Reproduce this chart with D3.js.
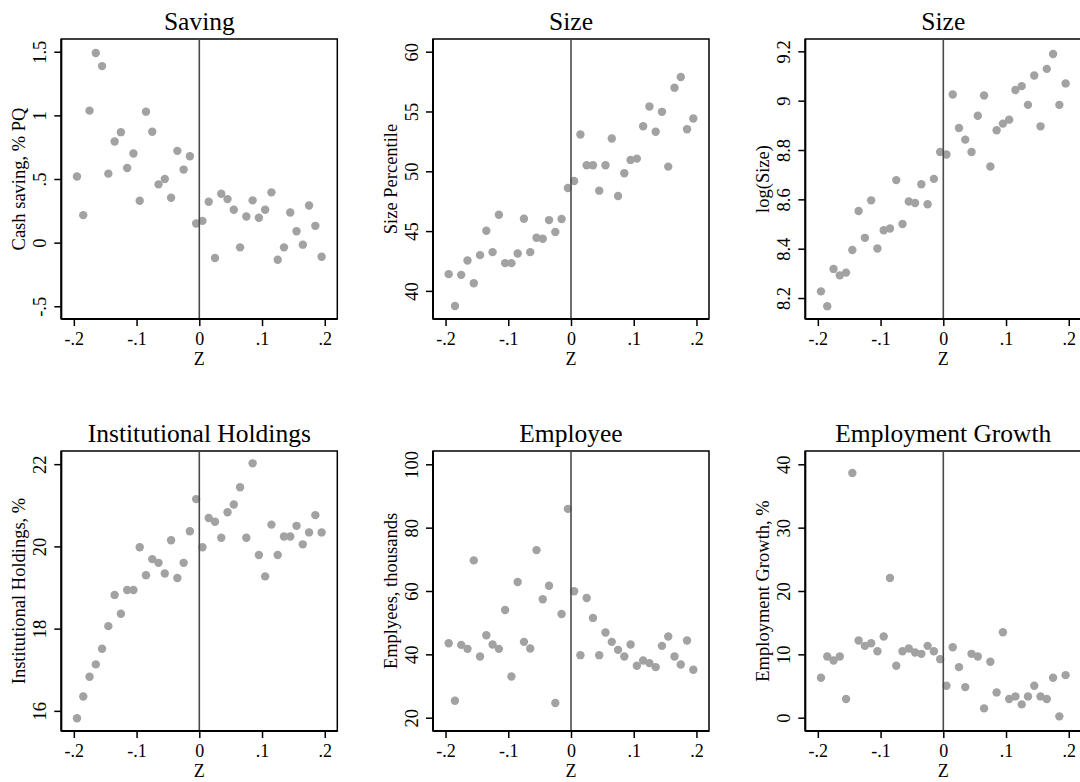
<!DOCTYPE html>
<html>
<head>
<meta charset="utf-8">
<script src="https://cdn.jsdelivr.net/npm/d3@7"></script>
<style>
  html, body { margin: 0; padding: 0; background: #fff; }
  svg { display: block; }
  svg text { font-family: "Liberation Serif", "Times New Roman", serif !important; fill: #000; }
</style>
</head>
<body>
<svg id="chart" width="1080" height="782"></svg>
<script>
// ---- Data ----
const zBins = [-0.195,-0.185,-0.175,-0.165,-0.155,-0.145,-0.135,-0.125,-0.115,-0.105,
  -0.095,-0.085,-0.075,-0.065,-0.055,-0.045,-0.035,-0.025,-0.015,-0.005,
  0.005,0.015,0.025,0.035,0.045,0.055,0.065,0.075,0.085,0.095,
  0.105,0.115,0.125,0.135,0.145,0.155,0.165,0.175,0.185,0.195];

const savingValues = [0.52,0.216,1.037,1.49,1.387,0.542,0.795,0.868,0.587,0.70,
  0.329,1.029,0.871,0.458,0.50,0.353,0.721,0.574,0.679,0.15,
  0.171,0.321,-0.121,0.384,0.342,0.258,-0.037,0.205,0.332,0.195,
  0.258,0.395,-0.134,-0.037,0.237,0.089,-0.016,0.292,0.132,-0.111];

const sizePctValues = [41.4,38.74,41.34,42.54,40.64,42.99,45.03,43.24,46.37,42.32,
  42.32,43.13,46.03,43.24,44.44,44.36,45.92,44.92,46.01,48.6,
  49.19,53.07,50.5,50.5,48.38,50.5,52.74,47.93,49.83,50.95,
  51.06,53.77,55.42,53.3,54.97,50.39,56.98,57.88,53.52,54.41];

const logSizeValues = [8.227,8.167,8.318,8.292,8.303,8.395,8.553,8.444,8.596,8.401,
  8.475,8.482,8.678,8.50,8.591,8.585,8.661,8.58,8.683,8.792,
  8.782,9.025,8.889,8.842,8.792,8.939,9.021,8.733,8.88,8.907,
  8.923,9.043,9.059,8.983,9.102,8.896,9.129,9.189,8.983,9.07];

const instHoldValues = [15.82,16.35,16.83,17.13,17.51,18.06,18.82,18.36,18.94,18.94,
  19.98,19.30,19.69,19.6,19.34,20.15,19.23,19.6,20.37,21.15,
  19.98,20.69,20.6,20.21,20.83,21.02,21.44,20.21,22.02,19.79,
  19.27,20.53,19.79,20.24,20.24,20.5,20.05,20.34,20.76,20.34];

const employeeValues = [43.52,25.35,42.99,41.73,69.66,39.32,46.04,43.1,41.73,54.0,
  33.02,62.83,43.94,41.84,72.91,57.38,61.68,24.62,52.76,85.93,
  59.9,39.74,57.8,51.5,39.74,46.88,43.94,41.42,39.32,43.1,
  36.38,38.06,37.22,35.96,42.68,45.62,39.32,36.8,44.36,35.12];

const empGrowthValues = [6.3,9.66,9.03,9.66,2.94,38.64,12.18,11.34,11.76,10.5,
  12.81,22.05,8.19,10.5,10.92,10.29,10.08,11.34,10.5,9.24,
  5.04,11.13,7.98,4.83,10.08,9.66,1.47,8.82,3.99,13.49,
  2.94,3.36,2.1,3.36,5.04,3.36,2.94,6.3,0.21,6.72];

const panelTitles = ["Saving","Size","Size","Institutional Holdings","Employee","Employment Growth"];
const yAxisTitles = ["Cash saving, % PQ","Size Percentile","log(Size)","Institutional Holdings, %","Emplyees, thousands","Employment Growth, %"];
const xAxisTitle = "Z";
const xTicks = [-0.2,-0.1,0,0.1,0.2];
const xTickLabels = ["-.2","-.1","0",".1",".2"];
const yTicks = [
  [-0.5,0,0.5,1,1.5],
  [40,45,50,55,60],
  [8.2,8.4,8.6,8.8,9,9.2],
  [16,18,20,22],
  [20,40,60,80,100],
  [0,10,20,30,40]
];
const yTickLabels = [
  ["-.5","0",".5","1","1.5"],
  ["40","45","50","55","60"],
  ["8.2","8.4","8.6","8.8","9","9.2"],
  ["16","18","20","22"],
  ["20","40","60","80","100"],
  ["0","10","20","30","40"]
];
const yDomains = [
  [-0.6,1.6],
  [37.65,61.06],
  [8.115,9.25],
  [15.51,22.32],
  [15.8,104.2],
  [-2.1,42.1]
];
const seriesList = [savingValues,sizePctValues,logSizeValues,instHoldValues,employeeValues,empGrowthValues];

// ---- Layout ----
const colCenters = [199.3, 571, 943.3];
const plotW = 276;
const rowTops = [39, 451];
const plotH = 280;
const serif = "'Liberation Serif', 'Times New Roman', serif";

const svg = d3.select("#chart");

seriesList.forEach((vals, i) => {
  const col = i % 3, row = Math.floor(i / 3);
  const left = colCenters[col] - plotW / 2;
  const top = rowTops[row];
  const x = d3.scaleLinear().domain([-0.22, 0.22]).range([0, plotW]);
  const y = d3.scaleLinear().domain(yDomains[i]).range([plotH, 0]);

  const g = svg.append("g").attr("transform", `translate(${left},${top})`);

  // frame
  g.append("rect").attr("x", 0).attr("y", 0).attr("width", plotW).attr("height", plotH)
    .attr("fill", "none").attr("stroke", "#000").attr("stroke-width", 1.5);

  // dots
  g.selectAll("circle").data(vals).join("circle")
    .attr("cx", (d, k) => x(zBins[k]))
    .attr("cy", d => y(d))
    .attr("r", 4.2)
    .attr("fill", "#a2a2a2");

  // zero line
  g.append("line").attr("x1", x(0)).attr("x2", x(0)).attr("y1", 0).attr("y2", plotH)
    .attr("stroke", "#4a4a4a").attr("stroke-width", 1.6);

  // x axis
  const xAxis = d3.axisBottom(x).tickValues(xTicks).tickSize(7).tickPadding(6)
    .tickFormat((d, k) => xTickLabels[k]);
  const xg = g.append("g").attr("transform", `translate(0,${plotH})`).call(xAxis)
    .attr("font-family", serif).attr("font-size", 18);
  xg.select(".domain").attr("stroke-width", 2).attr("d", `M0,0H${plotW}`);
  xg.selectAll(".tick line").attr("stroke-width", 1.5);
  xg.selectAll(".tick text").attr("fill", "#000");

  // y axis
  const yAxis = d3.axisLeft(y).tickValues(yTicks[i]).tickSize(7)
    .tickFormat((d, k) => yTickLabels[i][k]);
  const yg = g.append("g").call(yAxis)
    .attr("font-family", serif).attr("font-size", 18.5);
  yg.select(".domain").attr("stroke-width", 2).attr("d", `M0,0V${plotH}`);
  yg.selectAll(".tick line").attr("stroke-width", 1.5);
  yg.selectAll(".tick text")
    .attr("x", null).attr("dy", null)
    .attr("text-anchor", "middle")
    .attr("transform", "translate(-15,0) rotate(-90)")
    .attr("fill", "#000");

  // titles
  g.append("text").attr("x", plotW / 2).attr("y", -9).attr("text-anchor", "middle")
    .style("font-size", "25.5px").text(panelTitles[i]);
  g.append("text").attr("x", plotW / 2).attr("y", plotH + 46).attr("text-anchor", "middle")
    .style("font-size", "18px").text(xAxisTitle);
  g.append("text")
    .attr("transform", `translate(${-36},${plotH / 2}) rotate(-90)`)
    .attr("text-anchor", "middle")
    .style("font-size", "18.5px").text(yAxisTitles[i]);
});
</script>
</body>
</html>
